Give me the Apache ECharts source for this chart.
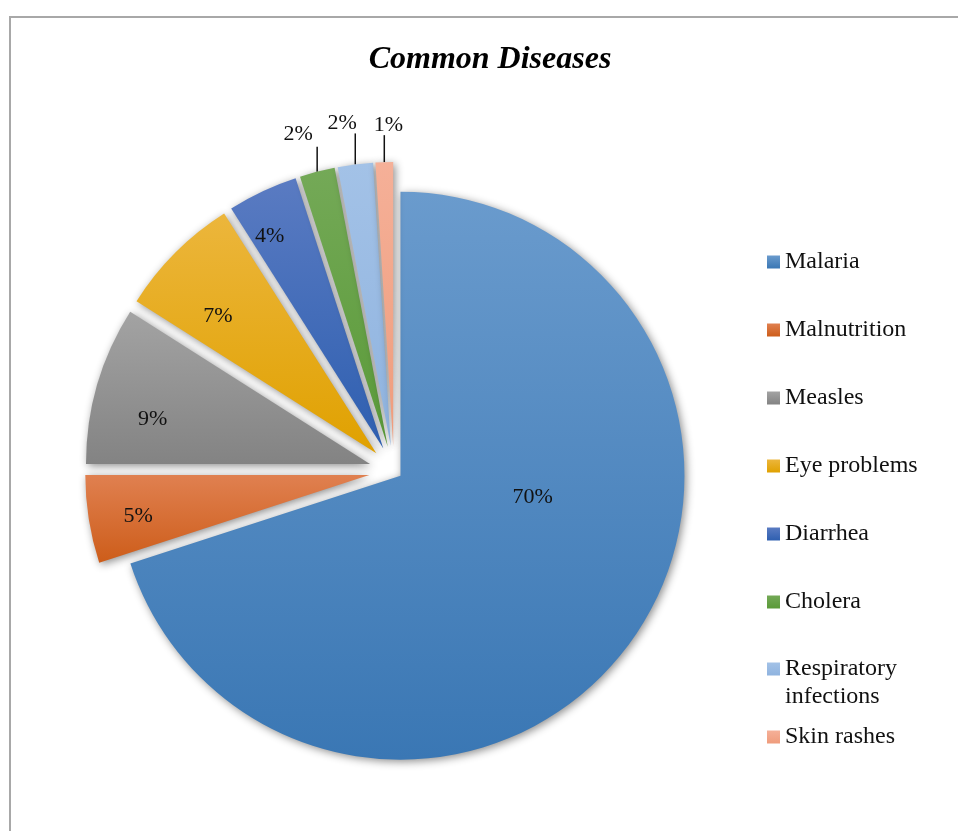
<!DOCTYPE html>
<html>
<head>
<meta charset="utf-8">
<script src="https://cdn.jsdelivr.net/npm/echarts@6/dist/echarts.min.js"></script>
<style>
html,body{margin:0;padding:0;background:#fff;}
#chart{width:958px;height:831px;}
</style>
</head>
<body>
<div id="chart"></div>
<script>
// ---- data ----
const categories = ['Malaria', 'Malnutrition', 'Measles', 'Eye problems', 'Diarrhea', 'Cholera', 'Respiratory infections', 'Skin rashes'];
const values = [70, 5, 9, 7, 4, 2, 2, 1];
const titleText = 'Common Diseases';

// ---- styles ----
const gradTop = ['#6a9bcd', '#e08050', '#a3a3a3', '#ecb63c', '#5a7bc2', '#74a957', '#a3c2e7', '#f5b098'];
const gradBot = ['#3a77b4', '#cd5d1a', '#838383', '#e0a100', '#2e5fb0', '#5a9a38', '#8fb3df', '#ef9c7c'];
const outsideLabel = [false, false, false, false, false, true, true, true];
const labelNudge = [[15, -64], [-88, 19], [-78, -4], [-56, -35], [-52, -81], [-19, 0], [-13, 2], [4, 2]];
const leadLen = [0, 0, 0, 0, 0, 25, 31, 27];
const FONT = 'Liberation Serif, Times New Roman, serif';
const PIE_CENTER = [394, 471];
const PIE_R = 284;

const chart = echarts.init(document.getElementById('chart'), null, {renderer: 'canvas'});

function sliceItem(i) {
  return {
    name: categories[i],
    value: values[i],
    selected: true,
    itemStyle: {
      color: new echarts.graphic.LinearGradient(0, 0, 0, 1, [
        {offset: 0, color: gradTop[i]},
        {offset: 1, color: gradBot[i]}
      ])
    },
    label: {show: true, position: outsideLabel[i] ? 'outside' : 'inside'},
    labelLine: {show: outsideLabel[i]}
  };
}
function placeholder(name, value) {
  return {
    name: name, value: value, selected: false,
    itemStyle: {color: 'rgba(0,0,0,0)', shadowBlur: 0, shadowColor: 'rgba(0,0,0,0)'},
    label: {show: false}, labelLine: {show: false}
  };
}
const restSum = values.slice(1).reduce((a, b) => a + b, 0);

// series A: Malaria (small explosion); series B: all other diseases (larger explosion)
const dataA = [sliceItem(0), placeholder('_rest', restSum)];
const dataB = [placeholder('_main', values[0])].concat(categories.slice(1).map((c, k) => sliceItem(k + 1)));

function labelLayoutFor(indexMap) {
  return function (p) {
    const i = indexMap(p.dataIndex);
    if (i < 0) return {};
    if (outsideLabel[i]) {
      const pts = p.labelLinePoints;
      if (!pts || pts.length < 3) return {};
      const x0 = pts[0][0], y0 = pts[0][1];
      const side = pts[1][0] < x0 ? -1 : 1;
      const anchorX = pts[2][0] + side * 5;
      const anchorY = pts[2][1];
      const top = y0 - leadLen[i];
      return {
        dx: x0 + labelNudge[i][0] - anchorX,
        dy: top - 1 + labelNudge[i][1] - anchorY,
        align: 'center', verticalAlign: 'bottom',
        labelLinePoints: [[x0, y0], [x0, top], [x0, top]]
      };
    }
    return {dx: labelNudge[i][0], dy: labelNudge[i][1]};
  };
}

const commonPie = {
  type: 'pie',
  center: PIE_CENTER,
  radius: PIE_R,
  startAngle: 90,
  clockwise: true,
  selectedMode: 'multiple',
  avoidLabelOverlap: false,
  percentPrecision: 0,
  emphasis: {disabled: true},
  itemStyle: {shadowBlur: 8, shadowColor: 'rgba(0,0,0,0.45)', shadowOffsetX: 2, shadowOffsetY: 2},
  label: {formatter: '{d}%', fontFamily: FONT, fontSize: 22, color: '#111'},
  labelLine: {length: 25, length2: 0, lineStyle: {color: '#111', width: 1.5}}
};

const legendText = {fontFamily: FONT, fontSize: 24, color: '#111'};
const legendCommon = {
  orient: 'vertical', left: 767, padding: 0,
  itemWidth: 13, itemHeight: 13, icon: 'rect', selectedMode: false,
  textStyle: legendText
};

const option = {
  animation: false,
  backgroundColor: '#fff',
  title: {
    text: titleText,
    left: 490,
    top: 44,
    padding: 0,
    textAlign: 'center',
    textStyle: {fontFamily: FONT, fontSize: 32, fontWeight: 'bold', fontStyle: 'italic', color: '#000'}
  },
  graphic: [{
    type: 'rect',
    shape: {x: 10, y: 17, width: 1000, height: 900},
    style: {fill: 'none', stroke: '#a8a8a8', lineWidth: 2},
    silent: true
  }],
  legend: [
    Object.assign({}, legendCommon, {top: 250, itemGap: 44, data: categories.slice(0, 6)}),
    Object.assign({}, legendCommon, {
      top: 627, data: [categories[6]],
      formatter: n => '\n' + n.replace(' ', '\n'),
      textStyle: Object.assign({}, legendText, {lineHeight: 28})
    }),
    Object.assign({}, legendCommon, {top: 725, data: [categories[7]]})
  ],
  series: [
    Object.assign({}, commonPie, {
      selectedOffset: 8,
      data: dataA,
      labelLayout: labelLayoutFor(d => (d === 0 ? 0 : -1))
    }),
    Object.assign({}, commonPie, {
      selectedOffset: 25,
      data: dataB,
      labelLayout: labelLayoutFor(d => (d === 0 ? -1 : d))
    })
  ]
};
chart.setOption(option);
</script>
</body>
</html>
